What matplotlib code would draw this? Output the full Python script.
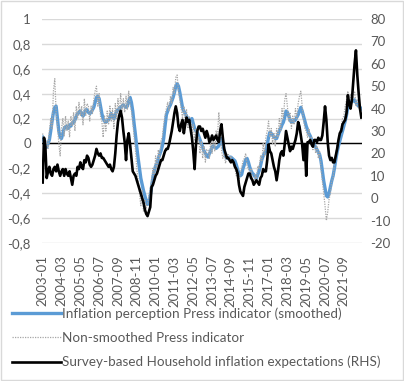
import matplotlib
matplotlib.use("Agg")
import matplotlib.pyplot as plt
from matplotlib.lines import Line2D
from matplotlib.patches import Rectangle
import numpy as np

# monthly data, 2003-01 ... 2022-10
startYear = 2003
tickStep = 14

pressSmoothed = [
    0.05, 0.02, -0.03, -0.03, 0.0, 0.03, 0.1, 0.18, 0.25, 0.29, 0.3, 0.2,
    0.1, 0.05, 0.04, 0.08, 0.12, 0.13, 0.14, 0.12, 0.15, 0.14, 0.16, 0.17,
    0.19, 0.22, 0.24, 0.25, 0.26, 0.24, 0.22, 0.24, 0.27, 0.27, 0.25, 0.24,
    0.25, 0.27, 0.29, 0.33, 0.37, 0.38, 0.36, 0.3, 0.24, 0.2, 0.18, 0.17,
    0.18, 0.19, 0.21, 0.24, 0.22, 0.2, 0.23, 0.26, 0.27, 0.28, 0.29, 0.3,
    0.31, 0.3, 0.29, 0.3, 0.34, 0.37, 0.33, 0.26, 0.16, 0.07, -0.03, -0.12,
    -0.2, -0.28, -0.33, -0.38, -0.42, -0.46, -0.49, -0.47, -0.42, -0.35, -0.27, -0.22,
    -0.18, -0.16, -0.12, -0.09, -0.06, -0.02, 0.04, 0.14, 0.23, 0.26, 0.29, 0.31,
    0.34, 0.37, 0.41, 0.46, 0.48, 0.46, 0.41, 0.35, 0.29, 0.26, 0.24, 0.22,
    0.19, 0.17, 0.19, 0.2, 0.16, 0.12, 0.1, 0.09, 0.06, 0.03, 0.0, -0.03,
    -0.06, -0.08, -0.1, -0.11, -0.08, -0.06, -0.03, -0.02, -0.03, -0.04, -0.03, -0.02,
    0.01, 0.04, 0.0, -0.06, -0.1, -0.12, -0.12, -0.11, -0.11, -0.12, -0.13, -0.14,
    -0.17, -0.21, -0.24, -0.26, -0.25, -0.2, -0.17, -0.13, -0.12, -0.15, -0.19, -0.22,
    -0.24, -0.25, -0.27, -0.28, -0.25, -0.22, -0.18, -0.13, -0.1, -0.08, -0.06, -0.01,
    0.05, 0.09, 0.08, 0.07, 0.05, 0.04, 0.04, 0.07, 0.1, 0.12, 0.15, 0.17,
    0.21, 0.26, 0.25, 0.22, 0.19, 0.17, 0.18, 0.18, 0.19, 0.21, 0.23, 0.26,
    0.29, 0.26, 0.22, 0.18, 0.14, 0.11, 0.08, 0.06, 0.03, 0.01, -0.01, -0.03,
    -0.05, -0.07, -0.09, -0.14, -0.22, -0.3, -0.36, -0.42, -0.43, -0.4, -0.35, -0.3,
    -0.26, -0.2, -0.13, -0.07, -0.02, 0.02, 0.06, 0.1, 0.14, 0.18, 0.23, 0.29,
    0.31, 0.33, 0.34, 0.34, 0.35, 0.33, 0.31, 0.3, 0.29, 0.28,
]

pressRaw = [
    0.08, -0.02, -0.06, 0.02, -0.04, 0.1, 0.2, 0.12, 0.42, 0.52, 0.25, 0.15,
    0.0, -0.1, 0.12, 0.2, 0.06, 0.22, 0.1, 0.18, 0.05, 0.22, 0.14, 0.25,
    0.1, 0.3, 0.2, 0.33, 0.22, 0.3, 0.15, 0.36, 0.22, 0.32, 0.3, 0.18,
    0.3, 0.24, 0.35, 0.42, 0.46, 0.3, 0.4, 0.22, 0.18, 0.05, 0.22, 0.1,
    0.26, 0.15, 0.3, 0.18, 0.28, 0.12, 0.32, 0.2, 0.36, 0.22, 0.4, 0.26,
    0.36, 0.25, 0.38, 0.27, 0.42, 0.32, 0.26, 0.18, 0.05, -0.05, -0.2, -0.3,
    -0.4, -0.5, -0.38, -0.55, -0.45, -0.52, -0.48, -0.42, -0.36, -0.3, -0.2, -0.26,
    -0.1, -0.2, -0.05, -0.12, 0.02, 0.05, 0.15, 0.22, 0.28, 0.33, 0.26, 0.38,
    0.32, 0.45, 0.4, 0.53, 0.55, 0.42, 0.35, 0.28, 0.2, 0.3, 0.15, 0.27,
    0.12, 0.22, 0.18, 0.08, 0.15, 0.02, 0.12, 0.0, 0.05, -0.08, 0.02, -0.12,
    -0.02, -0.15, -0.05, -0.05, -0.12, 0.02, -0.08, 0.05, -0.06, 0.1, 0.05, 0.25,
    0.12, -0.05, -0.12, -0.08, -0.16, -0.1, -0.08, -0.14, -0.1, -0.16, -0.15, -0.2,
    -0.26, -0.22, -0.3, -0.24, -0.2, -0.14, -0.12, -0.08, -0.18, -0.2, -0.26, -0.2,
    -0.3, -0.33, -0.25, -0.3, -0.18, -0.2, -0.1, -0.14, 0.0, -0.1, 0.05, 0.1,
    0.18, 0.05, 0.12, 0.0, 0.08, -0.02, 0.12, 0.05, 0.2, 0.1, 0.28, 0.2,
    0.35, 0.4, 0.3, 0.18, 0.25, 0.12, 0.22, 0.15, 0.28, 0.2, 0.32, 0.38,
    0.42, 0.3, 0.2, 0.12, 0.1, 0.05, 0.12, 0.0, 0.05, -0.05, 0.02, -0.08,
    -0.02, -0.12, -0.06, -0.2, -0.3, -0.4, -0.5, -0.62, -0.55, -0.45, -0.4, -0.3,
    -0.28, -0.15, -0.1, 0.0, 0.02, 0.1, 0.12, 0.2, 0.22, 0.3, 0.35, 0.42,
    0.3, 0.4, 0.32, 0.38, 0.42, 0.3, 0.35, 0.28, 0.3, 0.26,
]

householdRhs = [
    7, 27, 23, 9, 12, 14, 11, 10, 13, 14, 12, 15,
    12, 10, 12, 13, 10, 13, 11, 10, 12, 9, 6, 10,
    11, 10, 14, 13, 16, 14, 13, 17, 16, 19, 18, 15,
    14, 15, 17, 19, 22, 20, 19, 20, 18, 18, 17, 16,
    15, 14, 15, 13, 12, 14, 20, 28, 34, 37, 39, 36,
    30, 25, 17, 26, 29, 24, 18, 12, 11, 10, 8, 6,
    4, 2, 0, -2, -5, -7, -8, -6, -4, 5, 6, 8,
    10, 11, 13, 15, 17, 17, 19, 21, 22, 22, 24, 27,
    30, 34, 38, 41, 38, 32, 30, 33, 35, 29, 33, 36,
    34, 35, 31, 27, 21, 13, 24, 30, 32, 32, 30, 31,
    29, 27, 30, 28, 25, 26, 28, 26, 27, 28, 26, 25,
    30, 33, 27, 22, 20, 18, 18, 17, 16, 17, 16, 14,
    13, 11, 6, 3, 2, 1, 5, 7, 9, 11, 11, 9,
    8, 6, 7, 8, 7, 6, 9, 10, 13, 12, 12, 17,
    24, 21, 20, 17, 14, 12, 8, 12, 17, 20, 21, 19,
    24, 30, 27, 24, 21, 23, 22, 24, 26, 29, 34, 32,
    28, 24, 17, 24, 10, 25, 25, 26, 24, 23, 26, 26,
    25, 27, 26, 26, 28, 34, 41, 35, 25, 19, 17, 18,
    16, 16, 19, 22, 26, 29, 30, 33, 34, 35, 38, 46,
    42, 40, 44, 52, 60, 66, 55, 47, 40, 36,
]

leftTicks = [-0.8, -0.6, -0.4, -0.2, 0, 0.2, 0.4, 0.6, 0.8, 1]
rightTicks = [-20, -10, 0, 10, 20, 30, 40, 50, 60, 70, 80]

seriesNames = [
    "Inflation perception Press indicator (smoothed)",
    "Non-smoothed Press indicator",
    "Survey-based Household inflation expectations (RHS)",
]

blue = "#5b9bd5"
grey = "#a6a6a6"
textCol = "#595959"


def monthLabels(n):
    res = []
    for i in range(n):
        y = startYear + i // 12
        m = i % 12 + 1
        res.append("%d-%02d" % (y, m))
    return res


def fmtComma(v):
    s = ("%g" % v).replace(".", ",")
    return s


def drawChart():
    plt.rcParams["font.family"] = ["Lato", "DejaVu Sans"]
    n = len(pressSmoothed)
    xs = np.arange(n)
    labels = monthLabels(n)

    fig = plt.figure(figsize=(4.04, 3.81), dpi=100)
    fig.patches.append(Rectangle((0.002, 0.002), 0.995, 0.995, transform=fig.transFigure,
                                 fill=False, edgecolor="#d9d9d9", linewidth=1))

    ax = fig.add_axes([42 / 404, 1 - 243 / 381, 320 / 404, 224 / 381])
    ax2 = ax.twinx()

    ax.set_ylim(-0.8, 1)
    ax2.set_ylim(-20, 80)
    ax.set_xlim(-0.5, n - 0.5)

    for t in leftTicks:
        ax.axhline(t, color="#d9d9d9", linewidth=1, zorder=0)
    ax.axhline(0, color="black", linewidth=1, zorder=1)

    ax.plot(xs, pressSmoothed, color=blue, linewidth=2.4, zorder=2)
    ax.plot(xs, pressRaw, color=grey, linewidth=0.9, linestyle=(0, (1, 1)), zorder=3)
    ax2.plot(xs, householdRhs, color="black", linewidth=1.9, zorder=4)

    for a in (ax, ax2):
        for s in a.spines.values():
            s.set_visible(False)

    ax.set_yticks(leftTicks)
    ax.set_yticklabels([fmtComma(t) for t in leftTicks])
    ax2.set_yticks(rightTicks)
    ax2.set_yticklabels([str(t) for t in rightTicks])

    tickPos = list(range(0, n, tickStep))
    ax.set_xticks(tickPos)
    ax.set_xticklabels([labels[i] for i in tickPos], rotation=90)

    ax.tick_params(axis="y", length=0, pad=8, labelsize=9.5, labelcolor=textCol)
    ax2.tick_params(axis="y", length=0, pad=6, labelsize=9.5, labelcolor=textCol)
    ax.tick_params(axis="x", length=0, pad=9, labelsize=9.5, labelcolor=textCol)

    handles = [
        Line2D([], [], color=blue, linewidth=2.4),
        Line2D([], [], color=grey, linewidth=0.9, linestyle=(0, (1, 1))),
        Line2D([], [], color="black", linewidth=1.9),
    ]
    fig.legend(handles, seriesNames, loc="upper left", bbox_to_anchor=(12 / 404, 1 - 307 / 381),
               frameon=False, fontsize=9.7, handlelength=3.6, handletextpad=0.1,
               labelspacing=0.9, labelcolor=textCol, borderaxespad=0, borderpad=0)

    fig.savefig("out.png", dpi=100)


if __name__ == "__main__":
    drawChart()
